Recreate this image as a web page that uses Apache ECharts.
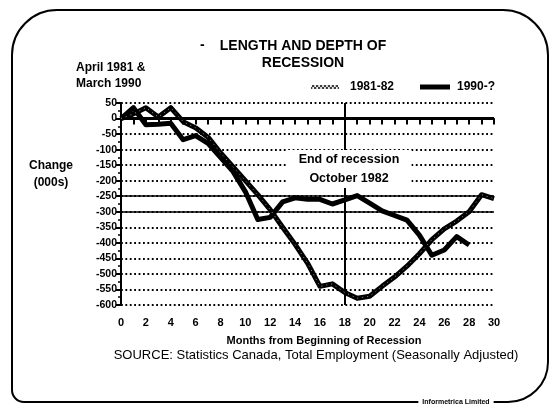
<!DOCTYPE html>
<html>
<head>
<meta charset="utf-8">
<script src="https://cdn.jsdelivr.net/npm/echarts@6/dist/echarts.min.js"></script>
<style>
  html, body { margin: 0; padding: 0; background: #fff; }
  #chart { width: 554px; height: 416px; }
</style>
</head>
<body>
<div id="chart"></div>
<script>
// months from beginning of recession
const months = [0, 1, 2, 3, 4, 5, 6, 7, 8, 9, 10, 11, 12, 13, 14, 15, 16, 17, 18, 19, 20,
                21, 22, 23, 24, 25, 26, 27, 28, 29, 30]
// change in employment (000s)
const rec1981 = [0, 15, 35, 5, 35, -10, -30, -60, -110, -155, -200, -245, -293, -350, -405, -465,
                 -540, -532, -560, -578, -572, -540, -510, -475, -435, -390, -355, -330, -300, -245, -258]
const rec1990 = [0, 35, -20, -18, -15, -68, -55, -80, -125, -170, -235, -325, -318, -268, -255, -260,
                 -260, -275, -262, -248, -272, -297, -312, -327, -375, -440, -423, -380, -407]
const refLines = [0, -250, -300]
const endMonth = 18

const FONT = '"Liberation Sans", Arial, sans-serif'

function pairs (vals) {
  return vals.map((v, i) => [months[i], v])
}

// stippled legend swatch
let dots = ''
for (let i = 0; i < 14; i++) {
  dots += 'M' + (i * 2) + ',' + (i % 2 ? 0 : 2) + 'h1.4v1.6h-1.4z'
  dots += 'M' + (i * 2 + 1) + ',' + (i % 2 ? 2 : 0) + 'h1.4v1.6h-1.4z'
}

let myChart = echarts.init(document.getElementById('chart'))
myChart.setOption({
  animation: false,
  backgroundColor: '#fff',
  grid: {
    left: 121,
    right: 60,
    top: 103,
    bottom: 111
  },
  legend: [
    {
      data: [{ name: '1981-82', icon: 'path://' + dots }],
      left: 306,
      top: 76,
      itemWidth: 28,
      itemHeight: 4,
      textStyle: { fontFamily: FONT, fontWeight: 'bold', fontSize: 12, color: '#000', padding: [0, 0, 0, 6] }
    },
    {
      data: [{ name: '1990-?', icon: 'rect' }],
      left: 415,
      top: 76,
      itemWidth: 30,
      itemHeight: 5,
      textStyle: { fontFamily: FONT, fontWeight: 'bold', fontSize: 12, color: '#000', padding: [0, 0, 0, 2] }
    }
  ],
  xAxis: {
    type: 'value',
    min: 0,
    max: 30,
    interval: 1,
    axisLine: { lineStyle: { color: '#000', width: 2 } },
    axisTick: { show: true, length: 6, lineStyle: { color: '#000', width: 2 } },
    axisLabel: {
      margin: 12,
      color: '#000',
      fontFamily: FONT,
      fontWeight: 'bold',
      fontSize: 11,
      formatter: function (v) { return v % 2 === 0 ? String(v) : '' }
    },
    splitLine: { show: false }
  },
  yAxis: {
    type: 'value',
    min: -600,
    max: 50,
    interval: 50,
    axisLine: { show: true, lineStyle: { color: '#000', width: 2 } },
    axisTick: { show: true, length: 5, lineStyle: { color: '#000', width: 2 } },
    minorTick: { show: true, splitNumber: 2, length: 3, lineStyle: { color: '#000', width: 1.5 } },
    axisLabel: {
      margin: 4,
      color: '#000',
      fontFamily: FONT,
      fontWeight: 'bold',
      fontSize: 10.5
    },
    splitLine: {
      show: true,
      lineStyle: { color: '#000', width: 1.8, type: [1.8, 2.6] }
    }
  },
  series: [
    {
      name: '1990-?',
      type: 'line',
      data: pairs(rec1990),
      symbol: 'none',
      lineStyle: { color: '#000', width: 5, join: 'round' },
      itemStyle: { color: '#000' },
      z: 4,
      markLine: {
        silent: true,
        symbol: 'none',
        label: { show: false },
        data: refLines.map(v => ({
          yAxis: v,
          lineStyle: { color: '#000', type: 'solid', width: v === 0 ? 3 : 1.5 }
        })).concat([[
          { coord: [endMonth, 50], lineStyle: { color: '#000', type: 'solid', width: 2 } },
          { coord: [endMonth, -600] }
        ]])
      }
    },
    {
      name: '1981-82',
      type: 'line',
      data: pairs(rec1981),
      symbol: 'none',
      lineStyle: { color: '#000', width: 5, join: 'round' },
      itemStyle: { color: '#000' },
      z: 5
    },
    {
      name: 'stipple',
      type: 'line',
      data: pairs(rec1981),
      symbol: 'none',
      silent: true,
      lineStyle: { color: '#fff', width: 1, type: [1, 4], opacity: 0.6 },
      z: 6
    }
  ],
  graphic: [
    {
      type: 'rect',
      shape: { x: 12, y: 10, width: 536, height: 392, r: [45, 45, 40, 12] },
      style: { fill: 'none', stroke: '#000', lineWidth: 2 },
      z: 0
    },
    {
      type: 'text',
      style: { text: 'LENGTH AND DEPTH OF\nRECESSION', x: 303, y: 38, textAlign: 'center', lineHeight: 17,
        font: 'bold 14px ' + FONT, fill: '#000' }
    },
    {
      type: 'text',
      style: { text: '-', x: 200, y: 38, font: 'bold 14px ' + FONT, fill: '#000' }
    },
    {
      type: 'text',
      style: { text: 'April 1981 &\nMarch 1990', x: 76, y: 60, lineHeight: 16,
        font: 'bold 12px ' + FONT, fill: '#000' }
    },
    {
      type: 'text',
      style: { text: 'Change\n(000s)', x: 51, y: 157, textAlign: 'center', lineHeight: 17,
        font: 'bold 12px ' + FONT, fill: '#000' }
    },
    {
      type: 'text',
      z: 10,
      style: { text: 'End of recession\nOctober 1982', x: 349, y: 150, textAlign: 'center', lineHeight: 19,
        font: 'bold 12.5px ' + FONT, fill: '#000', backgroundColor: '#fff', padding: [0, 12, 0, 12] }
    },
    {
      type: 'text',
      style: { text: 'Months from Beginning of Recession', x: 324, y: 335, textAlign: 'center',
        font: 'bold 11px ' + FONT, fill: '#000' }
    },
    {
      type: 'text',
      style: { text: 'SOURCE: Statistics Canada, Total Employment (Seasonally Adjusted)', x: 316, y: 349,
        textAlign: 'center', font: '13px ' + FONT, fill: '#000' }
    },
    {
      type: 'text',
      z: 10,
      style: { text: 'Informetrica Limited', x: 456, y: 402, textAlign: 'center', textVerticalAlign: 'middle',
        font: 'bold 7px ' + FONT, fill: '#000', backgroundColor: '#fff', padding: [1, 4, 1, 4] }
    }
  ]
})
</script>
</body>
</html>
